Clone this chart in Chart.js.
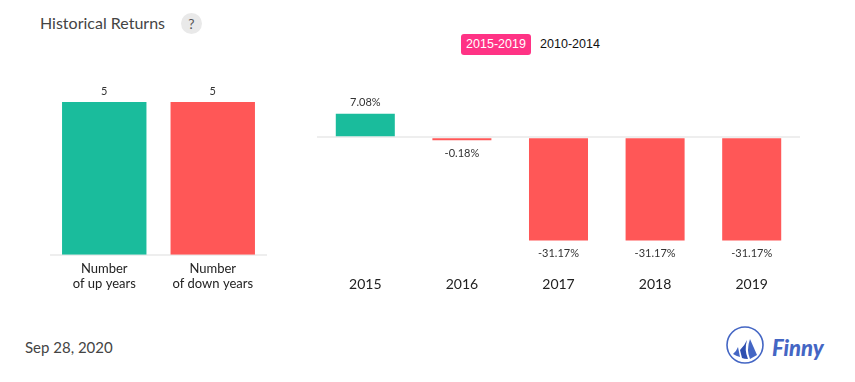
<!DOCTYPE html>
<html>
<head>
<meta charset="utf-8">
<title>Historical Returns</title>
<script src="https://cdn.jsdelivr.net/npm/chart.js@4"></script>
<style>
html, body { margin: 0; padding: 0; background: #fff; }
body { position: relative; width: 855px; height: 382px; overflow: hidden; font-family: Lato, sans-serif; }
canvas, .abs { position: absolute; }
#title { left: 40px; top: 13px; font-size: 16px; line-height: 20px; color: #444; }
#help { left: 181px; top: 13px; width: 21px; height: 21px; line-height: 21px; border-radius: 50%; background: #e9e9e9; color: #555; font-size: 14px; text-align: center; }
.tab { top: 34px; height: 21px; line-height: 21px; font-family: "Liberation Sans", sans-serif; font-size: 12.5px; text-align: center; }
#tabOn { left: 461px; width: 70px; background: #ff3385; color: #fff; border-radius: 3px; }
#tabOff { left: 540px; width: 60px; color: #111; }
#date { left: 25px; top: 337px; font-size: 15px; line-height: 20px; color: #444; }
#logo { left: 726px; top: 326px; }
#finny { left: 772px; top: 333px; font-family: Lato, sans-serif; font-style: italic; font-weight: 900; font-size: 22px; line-height: 30px; color: #4466c4; }
</style>
</head>
<body>
<div class="abs" id="title">Historical Returns</div>
<div class="abs" id="help">?</div>
<div class="abs tab" id="tabOn">2015-2019</div>
<div class="abs tab" id="tabOff">2010-2014</div>
<canvas id="countChart" width="217" height="220" style="left:50px;top:70px"></canvas>
<canvas id="returnChart" width="483" height="248" style="left:317px;top:60px"></canvas>
<div class="abs" id="date">Sep 28, 2020</div>
<svg class="abs" id="logo" width="40" height="40" viewBox="0 0 40 40">
  <circle cx="19" cy="19" r="18" fill="none" stroke="#4466c4" stroke-width="1.6"/>
  <path d="M7 28 Q10 26 12 21 L14 31 Q10 30 7 28Z" fill="#4466c4"/>
  <path d="M14 24 Q19 19 21 14 Q18 24 22 33 Q18 33 16 32Z" fill="#2f4fb0"/>
  <path d="M24 13 Q28 22 31 29 L24 33 Q20 24 24 13Z" fill="#4466c4"/>
</svg>
<div class="abs" id="finny">Finny</div>

<script>
const countLabels = [["Number", "of up years"], ["Number", "of down years"]];
const countValues = [5, 5];
const countColors = ["#1abc9c", "#ff5757"];

const years = ["2015", "2016", "2017", "2018", "2019"];
const returns = [7.08, -0.18, -31.17, -31.17, -31.17];
const returnColors = ["#1abc9c", "#ff5757", "#ff5757", "#ff5757", "#ff5757"];

// writes the value next to each bar
const barValues = {
    id: "barValues",
    afterDatasetsDraw(chart, args, opts) {
        const ctx = chart.ctx;
        const data = chart.data.datasets[0].data;
        ctx.save();
        ctx.font = "11px Lato";
        ctx.fillStyle = "#333";
        ctx.textAlign = "center";
        ctx.textBaseline = "middle";
        chart.getDatasetMeta(0).data.forEach((bar, i) => {
            const y = data[i] < 0 ? bar.y + 13 : bar.y - 11;
            ctx.fillText(data[i] + opts.suffix, bar.x, y);
        });
        ctx.restore();
    }
};

new Chart(document.getElementById("countChart"), {
    type: "bar",
    data: {
        labels: countLabels,
        datasets: [{ data: countValues, backgroundColor: countColors, barPercentage: 0.778, categoryPercentage: 1 }]
    },
    options: {
        responsive: false,
        animation: false,
        layout: { padding: { top: 32 } },
        plugins: { legend: { display: false }, tooltip: { enabled: false }, barValues: { suffix: "" } },
        scales: {
            x: {
                grid: { display: false },
                border: { color: "#eeeeee", width: 2 },
                ticks: { color: "#222", font: { family: "Lato", size: 13 }, padding: -2, maxRotation: 0, autoSkip: false }
            },
            y: { display: false, min: 0, max: 5 }
        }
    },
    plugins: [barValues]
});

new Chart(document.getElementById("returnChart"), {
    type: "bar",
    data: {
        labels: years,
        datasets: [{ data: returns, backgroundColor: returnColors, barPercentage: 0.611, categoryPercentage: 1, minBarLength: 3 }]
    },
    options: {
        responsive: false,
        animation: false,
        layout: { padding: { top: 44 } },
        plugins: { legend: { display: false }, tooltip: { enabled: false }, barValues: { suffix: "%" } },
        scales: {
            x: {
                grid: { display: false },
                border: { display: false },
                ticks: { color: "#222", font: { family: "Lato", size: 14 }, padding: 15, maxRotation: 0 }
            },
            y: {
                min: -35,
                max: 10,
                border: { display: false },
                ticks: { display: false, stepSize: 5 },
                grid: {
                    drawTicks: false,
                    lineWidth: 2,
                    color: c => c.tick.value === 0 ? "#eeeeee" : "transparent"
                }
            }
        }
    },
    plugins: [barValues]
});
</script>
</body>
</html>
